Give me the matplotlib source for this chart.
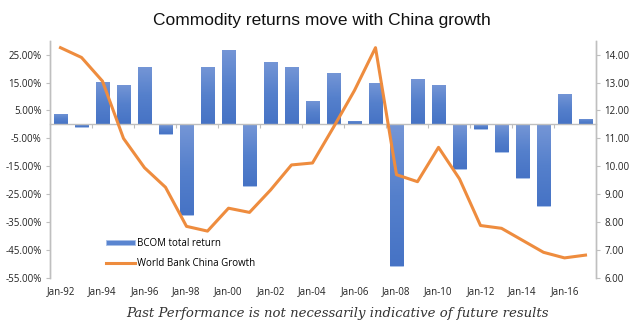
import matplotlib
matplotlib.use("Agg")
import matplotlib.pyplot as plt
import numpy as np
from matplotlib.ticker import FuncFormatter, FixedLocator
from matplotlib.colors import LinearSegmentedColormap

years = list(range(1992, 2018))
categories = [f"Jan-{y % 100:02d}" for y in years]
bcom_return = [3.8, -1.0, 15.2, 14.3, 20.5, -3.5, -32.4, 20.7, 26.6, -22.0, 22.4, 20.5, 8.3,
               18.3, 1.2, 14.8, -50.7, 16.3, 14.2, -16.0, -1.7, -10.0, -19.2, -29.3, 10.8, 2.0]
china_growth = [14.25, 13.9, 13.05, 11.0, 9.95, 9.25, 7.85, 7.68, 8.5, 8.35, 9.15, 10.05, 10.12,
                11.4, 12.72, 14.25, 9.7, 9.45, 10.68, 9.55, 7.88, 7.78, 7.35, 6.92, 6.72, 6.82]
left_ticks = [-55, -45, -35, -25, -15, -5, 5, 15, 25]
right_ticks = [6, 7, 8, 9, 10, 11, 12, 13, 14]

fig = plt.figure(figsize=(6.43, 3.28), dpi=100)
ax = fig.add_axes([50/643, 50/328, 546/643, 237.3/328])
ax2 = ax.twinx()

x = np.arange(len(categories))
bar_color = "#5A85D0"
line_color = "#EE8C3E"
grey = "#BFBFBF"

ax.set_xlim(-0.5, len(categories) - 0.5)
ax.set_ylim(-55, 30)
ax2.set_ylim(6, 14.5)

bars = ax.bar(x, bcom_return, width=0.66, color=bar_color, edgecolor="#A9C0E8",
              linewidth=0.6, label="BCOM total return", zorder=2)

# vertical gradient fill inside each bar (light top, darker bottom)
cmap = LinearSegmentedColormap.from_list("bargrad", ["#4673C5", "#5580CC", "#7596D6"])
grad = np.linspace(0, 1, 64).reshape(-1, 1)
for patch in bars:
    bx, by = patch.get_x(), patch.get_y()
    bw, bh = patch.get_width(), patch.get_height()
    y0, y1 = min(by, by + bh), max(by, by + bh)
    im = ax.imshow(grad, cmap=cmap, aspect="auto", origin="lower",
                   extent=(bx, bx + bw, y0, y1), zorder=2.1, interpolation="bicubic")
    im.set_clip_path(patch)
ax.set_xlim(-0.5, len(categories) - 0.5)
ax.set_ylim(-55, 30)
ax.set_aspect("auto")

line, = ax2.plot(x, china_growth, color=line_color, linewidth=2.2,
                 label="World Bank China Growth", zorder=3)

ax.yaxis.set_major_locator(FixedLocator(left_ticks))
ax.yaxis.set_major_formatter(FuncFormatter(lambda v, p: f"{v:.2f}%"))
ax2.yaxis.set_major_locator(FixedLocator(right_ticks))
ax2.yaxis.set_major_formatter(FuncFormatter(lambda v, p: f"{v:.2f}"))

ax.tick_params(axis="y", length=3, width=0.8, color=grey, pad=3, labelsize=7,
               labelcolor="#222222")
ax2.tick_params(axis="y", length=3, width=0.8, color=grey, pad=3, labelsize=7,
                labelcolor="#222222")

for a in (ax, ax2):
    a.spines["top"].set_visible(False)
    a.spines["left"].set_color(grey)
    a.spines["right"].set_color(grey)
    a.spines["left"].set_linewidth(1.0)
    a.spines["right"].set_linewidth(1.0)
ax2.spines["bottom"].set_visible(False)
ax.spines["bottom"].set_position(("data", 0))
ax.spines["bottom"].set_color(grey)
ax.spines["bottom"].set_linewidth(1.0)
ax.spines["bottom"].set_zorder(4)
ax.xaxis.set_major_locator(FixedLocator(x[1::2] + 0.5))
ax.xaxis.set_major_formatter(FuncFormatter(lambda v, p: ""))
ax.tick_params(axis="x", length=3, width=0.8, color=grey, direction="out")

sec = ax.secondary_xaxis(0.0)
sec.set_xticks(x[::2])
sec.set_xticklabels(categories[::2])
sec.spines["bottom"].set_visible(False)
sec.tick_params(axis="x", length=0, pad=6, labelsize=7, labelcolor="#222222")
for lab in sec.get_xticklabels():
    lab.set_fontfamily("Open Sans")
for lab in ax.get_yticklabels() + ax2.get_yticklabels():
    lab.set_fontfamily("Open Sans")

leg = ax.legend(handles=[bars, line], loc="upper left", bbox_to_anchor=(0.095, 0.185),
                frameon=False, fontsize=7, handlelength=3.0, handleheight=0.4,
                labelspacing=0.9, handletextpad=0.2, borderaxespad=0)
for t in leg.get_texts():
    t.set_fontfamily("Open Sans")

fig.text(0.5, 1 - 20/328, "Commodity returns move with China growth", ha="center", va="center",
         fontsize=12.5, family="Liberation Sans", color="#111111")
fig.text(337/643, 1 - 313/328, "Past Performance is not necessarily indicative of future results",
         ha="center", va="center", fontsize=9.5, family="DejaVu Serif", style="italic",
         color="#333333")

fig.savefig("out.png", dpi=100)
